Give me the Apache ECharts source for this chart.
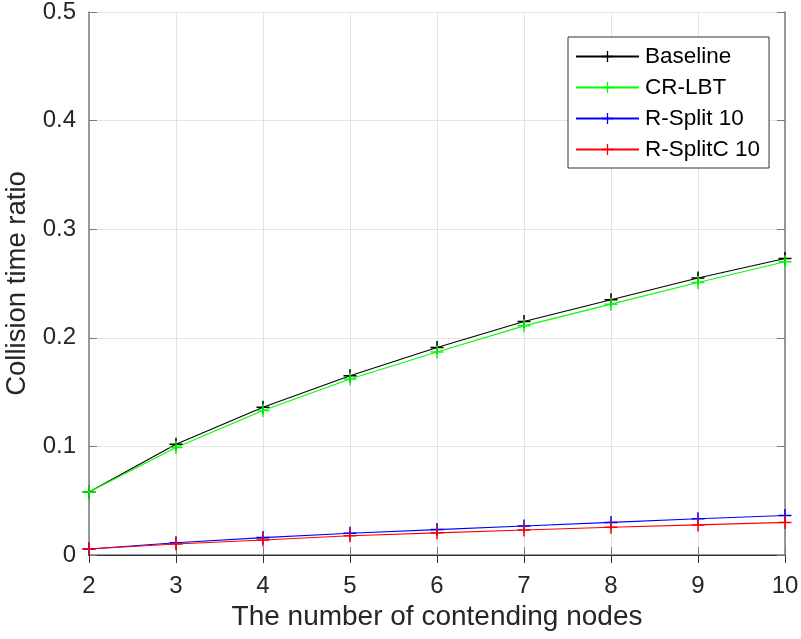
<!DOCTYPE html>
<html lang="en">
<head>
    <meta charset="UTF-8">
    <script src="https://cdn.jsdelivr.net/npm/echarts@6/dist/echarts.min.js"></script>
    <style>
        html, body {margin:0; padding:0; background:#fff;}
        #main {width:801px; height:639px;}
    </style>
    <title>Collision time ratio</title>
</head>
<body>
    <div id="main"></div>
    <script>
        // number of contending nodes
        const nodes = [2, 3, 4, 5, 6, 7, 8, 9, 10];
        // collision time ratio per scheme
        const baseline = [0.058, 0.102, 0.136, 0.165, 0.191, 0.215, 0.235, 0.255, 0.273];
        const crlbt    = [0.058, 0.099, 0.133, 0.162, 0.187, 0.211, 0.231, 0.251, 0.270];
        const rsplit   = [0.0055, 0.0113, 0.016, 0.020, 0.0234, 0.0267, 0.030, 0.0334, 0.0364];
        const rsplitc  = [0.0055, 0.0101, 0.0138, 0.0177, 0.0204, 0.023, 0.0255, 0.0277, 0.030];
        const names = ['Baseline', 'CR-LBT', 'R-Split 10', 'R-SplitC 10'];
        const colors = ['#000000', '#00ff00', '#0000ff', '#ff0000'];
        const values = [baseline, crlbt, rsplit, rsplitc];

        const font = 'Liberation Sans, Arial, Helvetica, sans-serif';
        const plus = 'path://M0,5.3h12v1.4h-12zM5.3,0h1.4v12h-1.4z';
        const axisCol = '#7a7a7a';
        const textCol = '#262626';

        let chart = echarts.init(document.getElementById('main'));

        let series = values.map((vals, i) => ({
            name: names[i],
            type: 'line',
            data: nodes.map((x, j) => [x, vals[j]]),
            symbol: plus,
            symbolSize: 13,
            showAllSymbol: true,
            lineStyle: {color: colors[i], width: 1.1},
            itemStyle: {color: colors[i]},
            animation: false
        }));

        let options = {
            backgroundColor: '#fff',
            textStyle: {fontFamily: font},
            grid: {left: 89, top: 12, right: 16, bottom: 84, show: false,
                containLabel: false, outerBoundsMode: 'none'},
            legend: {
                orient: 'vertical',
                left: 568,
                top: 37,
                padding: [8, 9, 7, 7],
                itemWidth: 63,
                itemHeight: 14,
                itemGap: 8,
                borderColor: '#333',
                borderWidth: 1,
                backgroundColor: '#fff',
                textStyle: {fontSize: 22.5, color: '#000', fontFamily: font, padding: [0, 0, 0, 1]},
                data: names
            },
            xAxis: [{
                type: 'value', min: 2, max: 10, interval: 1,
                name: 'The number of contending nodes',
                nameLocation: 'middle', nameGap: 48,
                nameTextStyle: {fontSize: 28, color: textCol},
                axisLine: {lineStyle: {color: axisCol, width: 1.5}},
                axisTick: {inside: true, length: 8, lineStyle: {color: axisCol}},
                axisLabel: {fontSize: 24, color: textCol, margin: 19},
                splitLine: {show: true, lineStyle: {color: '#e3e3e3', width: 1}}
            }, {
                type: 'value', min: 2, max: 10, interval: 1, position: 'top',
                axisLine: {lineStyle: {color: '#333', width: 1}},
                axisTick: {inside: true, length: 8, lineStyle: {color: '#333'}},
                axisLabel: {show: false},
                splitLine: {show: false}
            }],
            yAxis: [{
                type: 'value', min: 0, max: 0.5, interval: 0.1,
                name: 'Collision time ratio',
                nameLocation: 'middle', nameGap: 57, nameRotate: 90,
                nameTextStyle: {fontSize: 27.5, color: textCol},
                axisLine: {show: true, lineStyle: {color: axisCol, width: 1.5}},
                axisTick: {show: true, inside: true, length: 8, lineStyle: {color: axisCol}},
                axisLabel: {fontSize: 24, color: textCol, margin: 13,
                    formatter: v => v === 0 ? '0' : v.toFixed(1)},
                splitLine: {show: true, lineStyle: {color: '#e3e3e3', width: 1}}
            }, {
                type: 'value', min: 0, max: 0.5, interval: 0.1, position: 'right',
                axisLine: {show: true, lineStyle: {color: axisCol, width: 1.5}},
                axisTick: {show: true, inside: true, length: 8, lineStyle: {color: axisCol}},
                axisLabel: {show: false},
                splitLine: {show: false}
            }],
            series: series
        };
        chart.setOption(options);
    </script>
</body>
</html>
